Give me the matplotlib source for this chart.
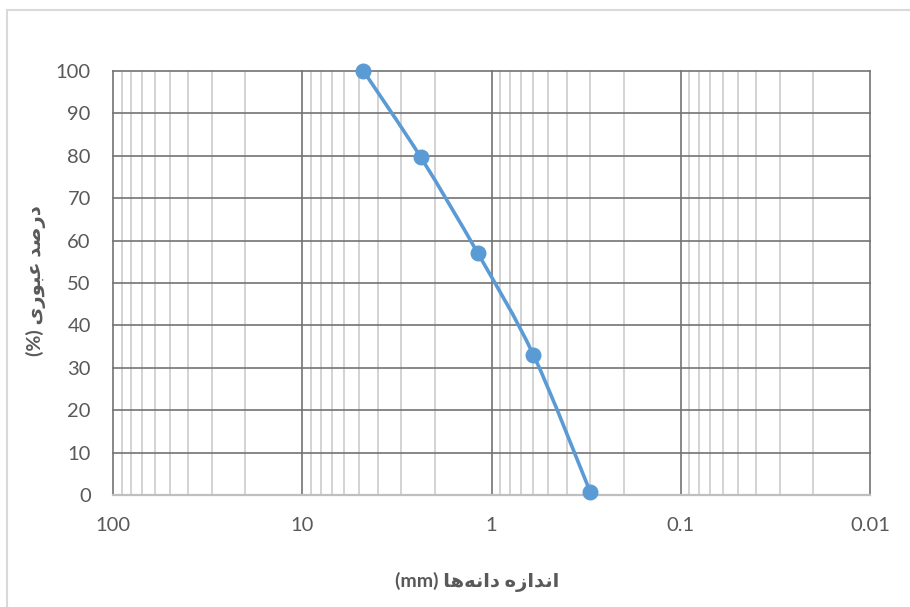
import numpy as np
import matplotlib
matplotlib.use("Agg")
import matplotlib.pyplot as plt
from matplotlib.path import Path
from matplotlib.patches import PathPatch, Rectangle
from matplotlib.ticker import FixedLocator, LogLocator, NullFormatter

plt.rcParams['font.family'] = ['Lato', 'DejaVu Sans']

# Sieve data (grain size in mm, percent passing)
sizes = [4.75, 2.36, 1.18, 0.6, 0.3]
passing = [100, 79.6, 57.0, 33.0, 0.6]

x_ticks = [100, 10, 1, 0.1, 0.01]
x_tick_labels = ['100', '10', '1', '0.1', '0.01']
y_ticks = list(range(0, 101, 10))

# Persian labels written in visual order with presentation forms
# "اندازه دانه‌ها (mm)"
x_label = "(mm) " + "\uFE8E\uFEEB\uFEEA\uFEE7\uFE8D\uFEA9" + " " + "\uFEE9\uFEAF\uFE8D\uFEAA\uFEE7\uFE8D"
# "درصد عبوری (%)"
y_label = "(%) " + "\uFEEF\uFEAD\uFEEE\uFE92\uFECB" + " " + "\uFEAA\uFEBB\uFEAD\uFEA9"

blue = '#5B9BD5'
text_grey = '#595959'

fig = plt.figure(figsize=(9.1, 6.07), dpi=100)
ax = fig.add_axes([113 / 910, 1 - 495 / 607, 757 / 910, 424 / 607])

# light chart border like an Excel chart area
fig.patches.append(Rectangle((6.5 / 910, -0.1), 1.2, 1 - 9.5 / 607 + 0.1,
                             transform=fig.transFigure, fill=False,
                             edgecolor='#d9d9d9', lw=1.5))

ax.set_xscale('log')
ax.set_xlim(100, 0.01)
ax.set_ylim(0, 100)

ax.xaxis.set_major_locator(FixedLocator(x_ticks))
ax.set_xticks(x_ticks)
ax.set_xticklabels(x_tick_labels)
ax.xaxis.set_minor_locator(LogLocator(base=10, subs=np.arange(2, 10)))
ax.xaxis.set_minor_formatter(NullFormatter())
ax.set_yticks(y_ticks)

ax.set_axisbelow(True)
ax.grid(True, which='major', axis='both', color='#737373', lw=1.2)
ax.grid(True, which='minor', axis='x', color='#c8c8c8', lw=1.1)
for gl in ax.get_xgridlines() + ax.get_ygridlines():
    gl.set_clip_on(False)

for s in ['top', 'right', 'left']:
    ax.spines[s].set_visible(False)
ax.spines['bottom'].set_color('#bfbfbf')
ax.spines['bottom'].set_linewidth(1.6)
ax.spines['bottom'].set_zorder(3)

ax.tick_params(which='both', length=0)
ax.tick_params(axis='x', pad=16, labelsize=14.5, labelcolor=text_grey)
ax.tick_params(axis='y', pad=16, labelsize=14.5, labelcolor=text_grey)

# smoothed line (Excel style) as cubic Bezier through the points in log-x space
u = np.log10(sizes) * 189.25
v = np.array(passing) * 4.24
pts = np.column_stack([u, v])
n = len(pts)
verts = [pts[0]]
codes = [Path.MOVETO]
for i in range(n - 1):
    p0 = pts[i - 1] if i > 0 else pts[i]
    p1 = pts[i]
    p2 = pts[i + 1]
    p3 = pts[i + 2] if i + 2 < n else pts[i + 1]
    c1 = p1 + (p2 - p0) / 6
    c2 = p2 - (p3 - p1) / 6
    verts += [c1, c2, p2]
    codes += [Path.CURVE4] * 3
verts = np.array(verts)
data_verts = np.column_stack([10 ** (verts[:, 0] / 189.25), verts[:, 1] / 4.24])
ax.add_patch(PathPatch(Path(data_verts, codes), fill=False, edgecolor=blue,
                       lw=2.6, capstyle='round', zorder=4, clip_on=False))
ax.plot(sizes, passing, linestyle='none', marker='o', markersize=10.5,
        color=blue, zorder=5, clip_on=False)

fig.text(477 / 910, 1 - 582 / 607, x_label, ha='center', va='center',
         fontsize=14, fontweight='bold', color=text_grey)
fig.text(36 / 910, 1 - 281 / 607, y_label, ha='center', va='center',
         rotation=90, fontsize=14, fontweight='bold', color=text_grey)

fig.savefig('out.png', dpi=100)
